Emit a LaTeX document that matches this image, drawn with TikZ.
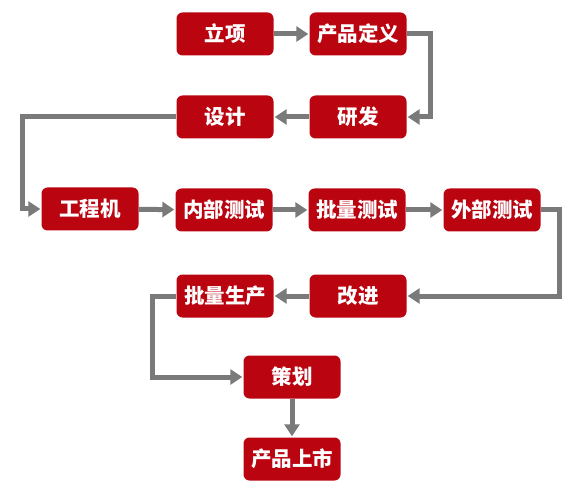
\documentclass[tikz,border=0pt]{standalone}
\usepackage{fontspec}
\setmainfont{Noto Sans CJK SC}
\usetikzlibrary{arrows.meta}
\definecolor{boxred}{HTML}{BA0410}
\definecolor{arrowgray}{HTML}{7A7A7A}
\tikzset{
  stepbox/.style={draw=none, fill=boxred, rounded corners=6pt, minimum width=97pt, minimum height=43pt,
    inner sep=0pt, text=white, font=\bfseries\fontsize{20.5pt}{22pt}\selectfont},
  flow/.style={draw=arrowgray, line width=5pt, -{Triangle[length=12pt,width=15pt]}, shorten >=1pt}
}
\begin{document}
\begin{tikzpicture}[x=1pt,y=-1pt]
\useasboundingbox (0,0) rectangle (585,502);
\node[stepbox] (lx) at (225,34) {立项};
\node[stepbox] (cp) at (358,34) {产品定义};
\node[stepbox] (yf) at (358,117) {研发};
\node[stepbox] (sj) at (225,117) {设计};
\node[stepbox] (gc) at (90,209) {工程机};
\node[stepbox] (nb) at (224,210) {内部测试};
\node[stepbox] (pl) at (357,210) {批量测试};
\node[stepbox] (wb) at (492,210) {外部测试};
\node[stepbox] (gj) at (358,296) {改进};
\node[stepbox] (sc) at (225,296) {批量生产};
\node[stepbox] (ch) at (292,377) {策划};
\node[stepbox] (ss) at (292,459) {产品上市};
\draw[flow] (lx) -- (cp);
\draw[flow] (cp.east) -- ++(24,0) |- (yf.east);
\draw[flow] (yf) -- (sj);
\draw[flow] (sj.west) -- (22,117) |- (gc.west);
\draw[flow] (gc) -- (nb);
\draw[flow] (nb) -- (pl);
\draw[flow] (pl) -- (wb);
\draw[flow] (wb.east) -- ++(19,0) |- (gj.east);
\draw[flow] (gj) -- (sc);
\draw[flow] (sc.west) -- (152,296) |- (ch.west);
\draw[flow] (ch) -- (ss);
\end{tikzpicture}
\end{document}
